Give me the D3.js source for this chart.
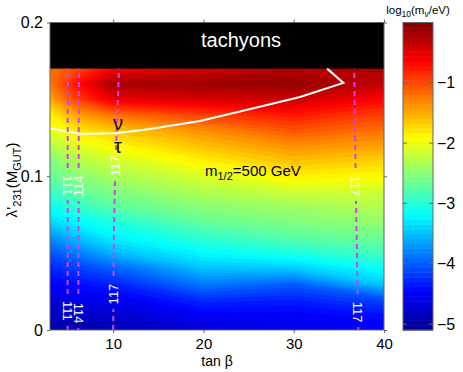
<!DOCTYPE html>
<html>
<head>
<meta charset="utf-8">
<script src="https://cdn.jsdelivr.net/npm/d3@7"></script>
<style>
  body { margin: 0; background: #fff; }
  svg text { font-family: "Liberation Sans", Arial, sans-serif; }
</style>
</head>
<body>
<script>
// grid of the field: columns are tan(beta), rows are lambda'_231 (bottom to top)
const tanBeta = [3, 6, 10, 20, 30, 40];
const lambdaRows = [0, 0.01, 0.02, 0.03, 0.04, 0.05, 0.06, 0.07, 0.08, 0.09,
                    0.10, 0.11, 0.12, 0.13, 0.14, 0.15, 0.16, 0.17];

// log10(m_nu / eV), one list per tan(beta) column
const logM_tb3  = [-5.0, -4.8, -4.65, -4.5, -4.3, -4.05, -3.75, -3.4, -3.15, -2.9, -2.7, -2.55, -2.3, -2.05, -1.85, -1.5, -1.25, -1.2];
const logM_tb6  = [-4.95, -4.78, -4.6, -4.4, -4.15, -3.85, -3.5, -3.2, -2.95, -2.7, -2.5, -2.3, -2.05, -1.8, -1.45, -0.95, -0.7, -1.0];
const logM_tb10 = [-4.9, -4.75, -4.55, -4.3, -4.0, -3.55, -3.25, -3.05, -2.75, -2.55, -2.35, -2.15, -1.9, -1.65, -1.2, -0.55, -0.2, -0.6];
const logM_tb20 = [-4.7, -4.5, -4.25, -3.85, -3.5, -3.2, -2.95, -2.7, -2.5, -2.3, -2.1, -1.85, -1.6, -1.35, -0.95, -0.45, -0.15, -0.4];
const logM_tb30 = [-4.6, -4.5, -4.3, -4.0, -3.45, -3.05, -2.75, -2.55, -2.4, -2.15, -1.85, -1.6, -1.35, -1.05, -0.75, -0.4, -0.1, -0.25];
const logM_tb40 = [-4.55, -4.4, -4.1, -3.45, -3.15, -2.85, -2.65, -2.45, -2.3, -2.15, -1.9, -1.7, -1.45, -1.2, -0.95, -0.65, -0.35, -0.2];
const columns = [logM_tb3, logM_tb6, logM_tb10, logM_tb20, logM_tb30, logM_tb40];

// white boundary of the sneutrino-LSP region
const lspTanB   = [3.0, 4.1, 6.4, 10.2, 13.9, 19.6, 25.2, 30.7, 35.5, 33.7];
const lspLambda = [0.131, 0.130, 0.1275, 0.128, 0.1305, 0.136, 0.1437, 0.1515, 0.1607, 0.17];

// Higgs mass contours (GeV), dashed
const higgsLines = [
  {mh: 111, tb: [4.95, 4.97], lam: [0, 0.17], labels: [0.0124, 0.0943], rot: [90, 90]},
  {mh: 114, tb: [6.13, 6.2], lam: [0, 0.17], labels: [0.011, 0.0937], rot: [90, -90]},
  {mh: 117, tb: [10.0, 10.05, 10.2, 10.45, 10.65], lam: [0, 0.05, 0.1, 0.14, 0.17], labels: [0.0234, 0.1067], rot: [-90, -90]},
  {mh: 117, tb: [37.15, 36.9, 36.7], lam: [0, 0.085, 0.17], labels: [0.0117, 0.0937], rot: [90, 90]}
];

const xTicks = [10, 20, 30, 40];
const yTicks = [0, 0.1, 0.2];
const cbTicks = [-1, -2, -3, -4, -5];
const cbMin = -5.1, cbMax = 0, nLevels = 64;
const tachyonFrom = 0.17;

const W = 463, H = 372;
const FONT = '"Liberation Sans", Arial, sans-serif';
const svg = d3.select('body').append('svg').attr('width', W).attr('height', H)
  .style('font-family', FONT);

const x = d3.scaleLinear().domain([3, 40]).range([50, 384]);
const y = d3.scaleLinear().domain([0, 0.2]).range([330, 22.5]);

const jet = d3.scaleLinear()
  .domain([0, 0.125, 0.375, 0.625, 0.875, 1])
  .range(['#00008f', '#0000ff', '#00ffff', '#ffff00', '#ff0000', '#800000']);
const levels = d3.range(nLevels).map(i => cbMin + i * (cbMax - cbMin) / nLevels);
const levelColor = i => jet((i + 0.5) / nLevels);

// flatten grid for d3.contours (values[col + row * n])
const n = tanBeta.length, m = lambdaRows.length;
const values = [];
for (let r = 0; r < m; r++) for (let c = 0; c < n; c++) values.push(columns[c][r]);

const colToTb = d3.scaleLinear().domain(d3.range(n)).range(tanBeta).clamp(true);
const rowToLam = d3.scaleLinear().domain(d3.range(m)).range(lambdaRows).clamp(true);
const proj = d3.geoTransform({
  point: function(px, py) {
    this.stream.point(x(colToTb(px - 0.5)), y(rowToLam(py - 0.5)));
  }
});
const path = d3.geoPath(proj);

const defs = svg.append('defs');
defs.append('clipPath').attr('id', 'plotclip').append('rect')
  .attr('x', x(3)).attr('y', y(0.2)).attr('width', x(40) - x(3)).attr('height', y(0) - y(0.2));

const field = svg.append('g').attr('clip-path', 'url(#plotclip)');
const contours = d3.contours().size([n, m]).thresholds(levels)(values);
field.selectAll('path.band').data(contours).enter().append('path')
  .attr('class', 'band')
  .attr('d', path)
  .attr('fill', (d, i) => levelColor(i))
  .attr('stroke', (d, i) => levelColor(i))
  .attr('stroke-width', 0.6);

// tachyon region
field.append('rect')
  .attr('x', x(3)).attr('y', y(0.2))
  .attr('width', x(40) - x(3)).attr('height', y(tachyonFrom) - y(0.2))
  .attr('fill', '#000');
svg.append('text').attr('x', 241).attr('y', 47).attr('text-anchor', 'middle')
  .attr('fill', '#fff').attr('font-size', '20px').text('tachyons');

// LSP boundary
const lspLine = d3.line().x(d => x(d[0])).y(d => y(d[1]));
field.append('path')
  .attr('d', lspLine(d3.zip(lspTanB, lspLambda)))
  .attr('fill', 'none').attr('stroke', '#fff').attr('stroke-width', 2);

// Higgs mass contours with gaps where the labels sit
higgsLines.forEach((h, k) => {
  const pts = d3.zip(h.tb, h.lam);
  const tbAt = d3.scaleLinear().domain(h.lam).range(h.tb);
  const mask = defs.append('mask').attr('id', 'hmask' + k)
    .attr('maskUnits', 'userSpaceOnUse')
    .attr('x', 0).attr('y', 0).attr('width', W).attr('height', H);
  mask.append('rect').attr('x', 0).attr('y', 0).attr('width', W).attr('height', H).attr('fill', '#fff');
  h.labels.forEach(l => {
    mask.append('rect').attr('x', x(tbAt(l)) - 8).attr('y', y(l) - 15)
      .attr('width', 16).attr('height', 30).attr('fill', '#000');
  });
  field.append('path')
    .attr('d', lspLine(pts))
    .attr('mask', 'url(#hmask' + k + ')')
    .attr('fill', 'none').attr('stroke', '#cc44ee')
    .attr('stroke-width', 2).attr('stroke-dasharray', '5,4');
  h.labels.forEach((l, j) => {
    const lx = x(tbAt(l)), ly = y(l);
    svg.append('text')
      .attr('transform', `translate(${lx},${ly}) rotate(${h.rot[j]})`)
      .attr('text-anchor', 'middle').attr('dy', '0.36em')
      .attr('fill', '#fff').attr('font-size', '13px')
      .style('font-family', FONT)
      .text(h.mh);
  });
});

// annotations
const nuLabel = svg.append('g').attr('font-size', '20px').attr('fill', '#111')
  .attr('text-anchor', 'middle');
nuLabel.append('text').attr('x', 118).attr('y', 130).text('\u03bd');
nuLabel.append('text').attr('x', 118).attr('y', 153).text('\u03c4');

const mHalf = svg.append('text').attr('x', 205).attr('y', 176).attr('font-size', '15px').attr('fill', '#000');
mHalf.append('tspan').text('m');
mHalf.append('tspan').attr('font-size', '11px').attr('dy', 4).text('1/2');
mHalf.append('tspan').attr('dy', -4).text('=500 GeV');

// plot box and ticks
const axisColor = '#666';
svg.append('rect')
  .attr('x', x(3)).attr('y', y(0.2)).attr('width', x(40) - x(3)).attr('height', y(0) - y(0.2))
  .attr('fill', 'none').attr('stroke', axisColor).attr('stroke-width', 1);

const gx = svg.append('g').attr('transform', `translate(0,${y(0)})`)
  .call(d3.axisBottom(x).tickValues(xTicks).tickSize(3).tickPadding(5).tickFormat(d3.format('d')));
const gxTop = svg.append('g').attr('transform', `translate(0,${y(0.2)})`)
  .call(d3.axisTop(x).tickValues(xTicks).tickSize(3).tickFormat(''));
const gy = svg.append('g').attr('transform', `translate(${x(3)},0)`)
  .call(d3.axisLeft(y).tickValues(yTicks).tickSize(3).tickPadding(4).tickFormat(d => d === 0 ? '0' : d3.format('.1f')(d)));
const gyRight = svg.append('g').attr('transform', `translate(${x(40)},0)`)
  .call(d3.axisRight(y).tickValues(yTicks).tickSize(3).tickFormat(''));
[gx, gxTop, gy, gyRight].forEach(g => {
  g.select('.domain').remove();
  g.selectAll('line').attr('stroke', axisColor);
  g.selectAll('text').attr('font-size', '16px').attr('fill', '#000').style('font-family', FONT);
});
gx.selectAll('text').attr('font-size', '15px');

svg.append('text').attr('x', 217).attr('y', 366).attr('text-anchor', 'middle')
  .attr('font-size', '14px').text('tan \u03b2');

const yl = svg.append('text').attr('transform', 'translate(17,180) rotate(-90)')
  .attr('text-anchor', 'middle').attr('font-size', '15px');
yl.append('tspan').text('\u03bb\u2019');
yl.append('tspan').attr('font-size', '11px').attr('dy', 4).text('231');
yl.append('tspan').attr('dy', -4).text('(M');
yl.append('tspan').attr('font-size', '11px').attr('dy', 4).text('GUT');
yl.append('tspan').attr('dy', -4).text(')');

// colorbar
const cb = d3.scaleLinear().domain([cbMin, cbMax]).range([330, 22.5]);
const cbX = 403, cbW = 30;
const cbg = svg.append('g');
cbg.selectAll('rect').data(levels).enter().append('rect')
  .attr('x', cbX).attr('width', cbW)
  .attr('y', d => cb(d + (cbMax - cbMin) / nLevels))
  .attr('height', cb(levels[0]) - cb(levels[1]) + 0.5)
  .attr('fill', (d, i) => levelColor(i));
cbg.append('rect').attr('x', cbX).attr('y', cb(cbMax)).attr('width', cbW).attr('height', cb(cbMin) - cb(cbMax))
  .attr('fill', 'none').attr('stroke', axisColor);
const gcb = svg.append('g').attr('transform', `translate(${cbX + cbW},0)`)
  .call(d3.axisRight(cb).tickValues(cbTicks).tickSize(0).tickPadding(4).tickFormat(d3.format('d')));
gcb.select('.domain').remove();
gcb.selectAll('text').attr('font-size', '16px').attr('fill', '#000').style('font-family', FONT);
cbTicks.forEach(t => {
  cbg.append('line').attr('x1', cbX).attr('x2', cbX + 4).attr('y1', cb(t)).attr('y2', cb(t)).attr('stroke', axisColor);
  cbg.append('line').attr('x1', cbX + cbW - 4).attr('x2', cbX + cbW).attr('y1', cb(t)).attr('y2', cb(t)).attr('stroke', axisColor);
});

const cbt = svg.append('text').attr('x', 418).attr('y', 14).attr('text-anchor', 'middle').attr('font-size', '11.5px');
cbt.append('tspan').text('log');
cbt.append('tspan').attr('font-size', '8.5px').attr('dy', 3).text('10');
cbt.append('tspan').attr('dy', -3).text('(m');
cbt.append('tspan').attr('font-size', '8.5px').attr('dy', 3).text('\u03bd');
cbt.append('tspan').attr('dy', -3).text('/eV)');
</script>
</body>
</html>
